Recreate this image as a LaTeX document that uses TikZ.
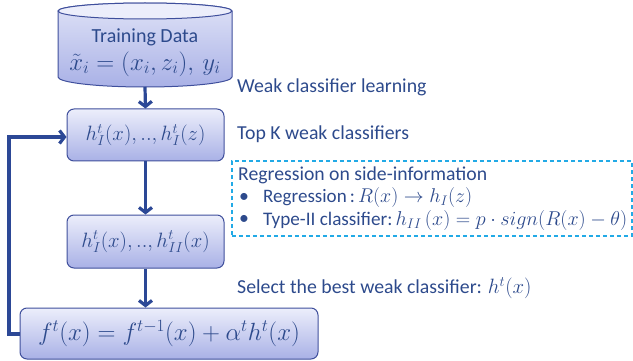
\documentclass[tikz,border=0pt]{standalone}
\usepackage{fontspec}
\usepackage{graphicx}
\setmainfont{Carlito}
\usetikzlibrary{arrows.meta}
\definecolor{txt}{HTML}{2D4A8C}
\definecolor{arr}{HTML}{2C4896}
\definecolor{bord}{HTML}{3F4F9C}
\definecolor{topc}{HTML}{ECEEFB}
\definecolor{botc}{HTML}{A9B1E6}
\definecolor{dash}{HTML}{22AAE6}
\newcommand{\fs}[1]{\fontsize{#1}{#1}\selectfont}
\begin{document}
\begin{tikzpicture}[x=1pt,y=-1pt,
  box/.style={draw=bord,line width=1pt,rounded corners=7pt,top color=topc,bottom color=botc,
    inner sep=0pt,text=txt},
  flow/.style={draw=arr,line width=3.2pt,-{Straight Barb[length=5pt,width=13pt]}},
  lab/.style={anchor=west,text=txt,inner sep=0pt,font=\fs{19.8}}]
\useasboundingbox (0,0) rectangle (633,361);
% cylinder
\path[top color=topc!80!botc,bottom color=botc,draw=bord,line width=1pt]
  (58,11) -- (58,77) arc[start angle=180,end angle=0,x radius=87,y radius=10]
  -- (232,11) arc[start angle=0,end angle=-180,x radius=87,y radius=8] -- cycle;
\path[fill=topc,draw=bord,line width=1pt] (145,11) ellipse[x radius=87,y radius=8];
\node[text=txt,inner sep=0pt,font=\fs{20}] (data) at (145,37) {Training Data};
\node[text=txt,inner sep=0pt,font=\fs{24}] (dataf) at (145,64) {$\tilde{x}_i=(x_i,z_i),\,y_i$};
\coordinate (dbot) at (145,87);
\node[box,font=\fs{21},minimum width=157pt,minimum height=52pt] (b1) at (145.5,135) {$h_I^t(x),..,h_I^t(z)$};
\node[box,font=\fs{22.5},minimum width=157pt,minimum height=53pt] (b2) at (145.5,241.5) {$h_I^t(x),..,h_{II}^t(x)$};
\node[box,font=\fs{23.6},minimum width=298pt,minimum height=51pt] (b3) at (169,333.5) {$f^t(x)=f^{t-1}(x)+\alpha^t h^t(x)$};
\draw[flow] (dbot) -- (b1.north);
\draw[flow] (b1.south) -- (b2.north);
\draw[flow] (b2.south) -- (b3.north -| b2.south);
\coordinate (c1) at (9,334);
\coordinate (c2) at (9,137);
\draw[flow] (b3.west |- c1) -- (c1) -- (c2) -- (b1.west |- c2);
% labels
\node[lab] (l1) at (237,87) {Weak classifier learning};
\node[lab] (l2) at (237,134) {Top K weak classifiers};
\node[draw=dash,line width=1.6pt,dash pattern=on 4pt off 3pt,minimum width=400pt,minimum height=75pt,anchor=north west] (db) at (231,160) {};
\node[lab] (r0) at (238,175) {\resizebox{249pt}{!}{Regression on side-information}};
\node[lab] (r1b) at (239,198) {•};
\node[lab] (r1) at (263,198) {\resizebox{209pt}{!}{Regression\,:\,$R(x)\rightarrow h_I(z)$}};
\node[lab] (r2b) at (239,220) {•};
\node[lab] (r2) at (263,220) {\resizebox{364pt}{!}{Type-II classifier:\,$h_{II}\,(x)=p\cdot sign(R(x)-\theta)$}};
\node[lab] (l3) at (237,288) {Select the best weak classifier: $h^t(x)$};
\end{tikzpicture}
\end{document}
